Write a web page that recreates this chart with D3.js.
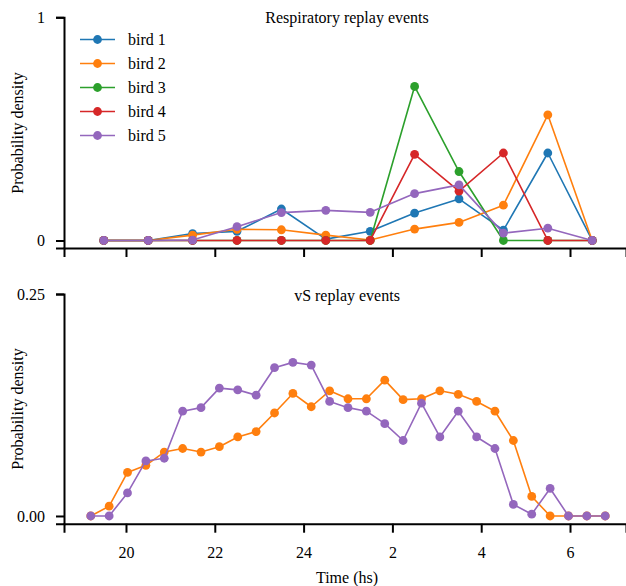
<!DOCTYPE html>
<html>
<head>
<meta charset="utf-8">
<script src="https://cdn.jsdelivr.net/npm/d3@7"></script>
<style>
  html, body { margin: 0; padding: 0; background: #fff; }
  svg { display: block; font-family: "Liberation Serif", "Times New Roman", serif; }
</style>
</head>
<body>
<svg id="chart" width="626" height="586"></svg>
<script>
// Hourly bins (hours after midnight of day 1, so 26.5 = 02:30)
const respHours = [19.5, 20.5, 21.5, 22.5, 23.5, 24.5, 25.5, 26.5, 27.5, 28.5, 29.5, 30.5];

const bird1 = [0, 0, 0.031, 0.041, 0.141, 0.006, 0.041, 0.123, 0.186, 0.046, 0.392, 0];
const bird2 = [0, 0, 0.024, 0.050, 0.048, 0.024, 0.002, 0.051, 0.081, 0.158, 0.563, 0];
const bird3 = [0, 0, 0, 0, 0, 0, 0, 0.690, 0.309, 0, 0, 0];
const bird4 = [0, 0, 0, 0, 0, 0, 0, 0.386, 0.221, 0.392, 0, 0];
const bird5 = [0, 0, 0.002, 0.062, 0.125, 0.135, 0.126, 0.210, 0.249, 0.033, 0.055, 0];

const birdNames = ["bird 1", "bird 2", "bird 3", "bird 4", "bird 5"];
const birdColors = ["#1f77b4", "#ff7f0e", "#2ca02c", "#d62728", "#9467bd"];

// Finer bins for the vS events
const vsHours = [19.207, 19.621, 20.034, 20.448, 20.862, 21.276, 21.690, 22.103, 22.517, 22.931,
                 23.345, 23.759, 24.172, 24.586, 25.000, 25.414, 25.828, 26.241, 26.655, 27.069,
                 27.483, 27.897, 28.310, 28.724, 29.138, 29.552, 29.966, 30.379, 30.793];
const vsOrange = [0, 0.011, 0.049, 0.057, 0.072, 0.076, 0.072, 0.078, 0.089, 0.095,
                  0.116, 0.138, 0.123, 0.141, 0.132, 0.132, 0.153, 0.131, 0.132, 0.141,
                  0.137, 0.129, 0.118, 0.085, 0.022, 0, 0, 0, 0];
const vsPurple = [0, 0, 0.026, 0.062, 0.065, 0.118, 0.122, 0.144, 0.142, 0.136,
                  0.167, 0.173, 0.170, 0.129, 0.122, 0.118, 0.104, 0.085, 0.127, 0.089,
                  0.118, 0.089, 0.076, 0.013, 0.002, 0.031, 0, 0, 0];

const xTicks = [20, 22, 24, 26, 28, 30];
const respYTicks = [0, 1];
const vsYTicks = [0, 0.25];

const svg = d3.select("#chart");
const FONT = 16;

const x = d3.scaleLinear().domain([18.604, 31.261]).range([64, 626]);
const hourLabel = h => String(h > 24 ? h - 24 : h);

function panel(cfg) {
  const g = svg.append("g");
  const y = d3.scaleLinear().domain(cfg.yDomain).range(cfg.yRange);

  // axes
  const xAxis = d3.axisBottom(x).tickValues(xTicks).tickSizeOuter(0).tickSize(9)
    .tickPadding(cfg.showXLabels ? 14 : 0)
    .tickFormat(cfg.showXLabels ? hourLabel : () => "");
  const xg = g.append("g").attr("transform", `translate(0,${cfg.yRange[0]})`).call(xAxis);

  const yAxis = d3.axisLeft(y).tickValues(cfg.yTicks).tickSizeOuter(0).tickSize(8)
    .tickPadding(11).tickFormat(cfg.yFormat);
  const yg = g.append("g").attr("transform", "translate(64,0)").call(yAxis);

  [xg, yg].forEach(a => {
    a.select(".domain").attr("stroke", "#000").attr("stroke-width", 2);
    a.selectAll(".tick line").attr("stroke", "#000").attr("stroke-width", 2);
    a.selectAll(".tick text").attr("fill", "#000").style("font-size", FONT + "px")
      .style("font-family", "'Liberation Serif', serif");
  });

  // series
  const line = d3.line().x(d => x(d[0])).y(d => y(d[1]));
  cfg.series.forEach(s => {
    const pts = s.xs.map((h, i) => [h, s.ys[i]]);
    const sg = g.append("g");
    sg.append("path").attr("d", line(pts)).attr("fill", "none")
      .attr("stroke", s.color).attr("stroke-width", 1.6).attr("stroke-linejoin", "round");
    sg.selectAll("circle").data(pts).join("circle")
      .attr("cx", d => x(d[0])).attr("cy", d => y(d[1])).attr("r", 4.4)
      .attr("fill", s.color);
  });

  // title
  g.append("text").attr("x", 347).attr("y", cfg.titleY).attr("text-anchor", "middle")
    .style("font-size", FONT + "px").text(cfg.title);

  // y label
  g.append("text")
    .attr("transform", `translate(23,${cfg.yLabelY}) rotate(-90)`)
    .attr("text-anchor", "middle").style("font-size", FONT + "px")
    .text("Probability density");
  return { g, y };
}

const respSeries = [bird1, bird2, bird3, bird4, bird5].map((ys, i) => ({
  xs: respHours, ys, color: birdColors[i]
}));

panel({
  yDomain: [-0.0337, 1], yRange: [248, 17.3], yTicks: respYTicks,
  yFormat: d3.format("d"), series: respSeries, showXLabels: false,
  title: "Respiratory replay events", titleY: 23, yLabelY: 133
});

panel({
  yDomain: [-0.0087, 0.25], yRange: [523.7, 294], yTicks: vsYTicks,
  yFormat: d3.format(".2f"),
  series: [
    { xs: vsHours, ys: vsOrange, color: birdColors[1] },
    { xs: vsHours, ys: vsPurple, color: birdColors[4] }
  ],
  showXLabels: true, title: "vS replay events", titleY: 301, yLabelY: 409
});

// x label
svg.append("text").attr("x", 347).attr("y", 583).attr("text-anchor", "middle")
  .style("font-size", FONT + "px").text("Time (hs)");

// legend
const legend = svg.append("g");
birdNames.forEach((name, i) => {
  const cy = 39.5 + i * 24;
  legend.append("line").attr("x1", 80).attr("x2", 115).attr("y1", cy).attr("y2", cy)
    .attr("stroke", birdColors[i]).attr("stroke-width", 1.6);
  legend.append("circle").attr("cx", 97.5).attr("cy", cy).attr("r", 4.4).attr("fill", birdColors[i]);
  legend.append("text").attr("x", 128).attr("y", cy + 5.5)
    .style("font-size", FONT + "px").text(name);
});
</script>
</body>
</html>
